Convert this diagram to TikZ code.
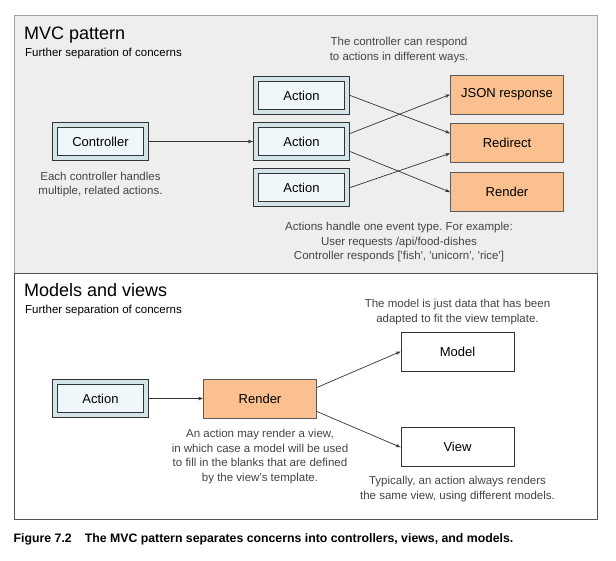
\documentclass[tikz,border=0pt]{standalone}
\usepackage{fontspec}
\setmainfont{Liberation Sans}
\usepackage{xcolor}
\usepackage{tikz}
\usetikzlibrary{positioning}
\usetikzlibrary{arrows.meta}

\definecolor{panelgray}{HTML}{EEEEEE}
\definecolor{actout}{HTML}{D4E5EA}
\definecolor{actin}{HTML}{EFF7FA}
\definecolor{resp}{HTML}{FAC08F}
\definecolor{ink}{HTML}{333333}
\definecolor{notegray}{HTML}{444444}
\frenchspacing

\begin{document}
\begin{tikzpicture}[
	x=1pt, y=-1pt,
	font=\fontsize{13}{15}\selectfont,
	>={Stealth[length=5pt,width=3.5pt]}
]
\tikzset{
    actionbox/.style = {draw=ink, line width=0.8pt, double=actout, double distance=4pt, fill=actin, minimum width=91.4pt, minimum height=33pt, outer sep=2.8pt, inner sep=0pt},
		respbox/.style = {draw=ink!80, line width=0.8pt, fill=resp, minimum width=113pt, minimum height=39pt, inner sep=0pt},
		plainbox/.style = {draw=ink, line width=0.8pt, fill=white, minimum width=113pt, minimum height=39pt, inner sep=0pt},
		note/.style = {text=notegray, align=center, inner sep=0pt, font=\fontsize{11.5}{14.5}\selectfont},
		heading/.style = {anchor=base west, inner sep=0pt, font=\fontsize{18}{20}\selectfont},
		subhead/.style = {anchor=base west, inner sep=0pt, font=\fontsize{11.5}{14}\selectfont},
		link/.style = {->, draw=ink, line width=0.7pt}
}
\useasboundingbox (0,0) rectangle (616,560);
\draw[gray!70, fill=panelgray] (14,15) rectangle (597,273);
\draw[ink!85, fill=white] (14,273) rectangle (597,519);

\node[heading] (T1) at (24,39) {MVC pattern};
\node[subhead] (S1) at (25,56) {Further separation of concerns};
\node[actionbox] (C) at (100.5,141.5) {Controller};
\node[actionbox] (A2) at (301.5,141.5) {Action};
\node[actionbox, above=7.5pt of A2] (A1) {Action};
\node[actionbox, below=7.5pt of A2] (A3) {Action};
\node[respbox] (J) at (507,94.5) {JSON response};
\node[respbox, below=9pt of J] (Rd) {Redirect};
\node[respbox, below=9pt of Rd] (Rn) {Render};
\node[note] (N1) at (100.5,184.5) {Each controller handles\\multiple, related actions.};
\node[note] (N2) at (399,50) {The controller can respond\\to actions in different ways.};
\node[note] (N3) at (399,242.5) {Actions handle one event type. For example:\\User requests /api/food-dishes\\Controller responds [\textquotesingle fish\textquotesingle, \textquotesingle unicorn\textquotesingle, \textquotesingle rice\textquotesingle]};
\draw[link] (C) -- (A2);
\draw[link] (A1.east) -- ([yshift=10pt]Rd.west);
\draw[link] ([yshift=8pt]A2.east) -- (J.west);
\draw[link] ([yshift=-10pt]A2.east) -- (Rn.west);
\draw[link] (A3.east) -- ([yshift=-10pt]Rd.west);

\node[heading] (T2) at (24,296) {Models and views};
\node[subhead] (S2) at (25,313) {Further separation of concerns};
\node[actionbox] (BA) at (100.5,398.5) {Action};
\node[respbox] (BR) at (260,398.5) {Render};
\node[plainbox] (M) at (457.5,351.5) {Model};
\node[plainbox, below=56pt of M] (V) {View};
\node[note] (N4) at (260,456.5) {An action may render a view,\\in which case a model will be used\\to fill in the blanks that are defined\\by the view's template.};
\node[note] (N5) at (457.5,312) {The model is just data that has been\\adapted to fit the view template.};
\node[note] (N6) at (457.5,489) {Typically, an action always renders\\the same view, using different models.};
\draw[link] (BA) -- (BR);
\draw[link] ([yshift=11pt]BR.east) -- (M.west);
\draw[link] ([yshift=-13pt]BR.east) -- (V.west);

\node[anchor=base west, inner sep=0pt, font=\bfseries\fontsize{12.3}{14}\selectfont] (F) at (13.5,542) {Figure 7.2\hspace{13pt}The MVC pattern separates concerns into controllers, views, and models.};
\end{tikzpicture}
\end{document}
